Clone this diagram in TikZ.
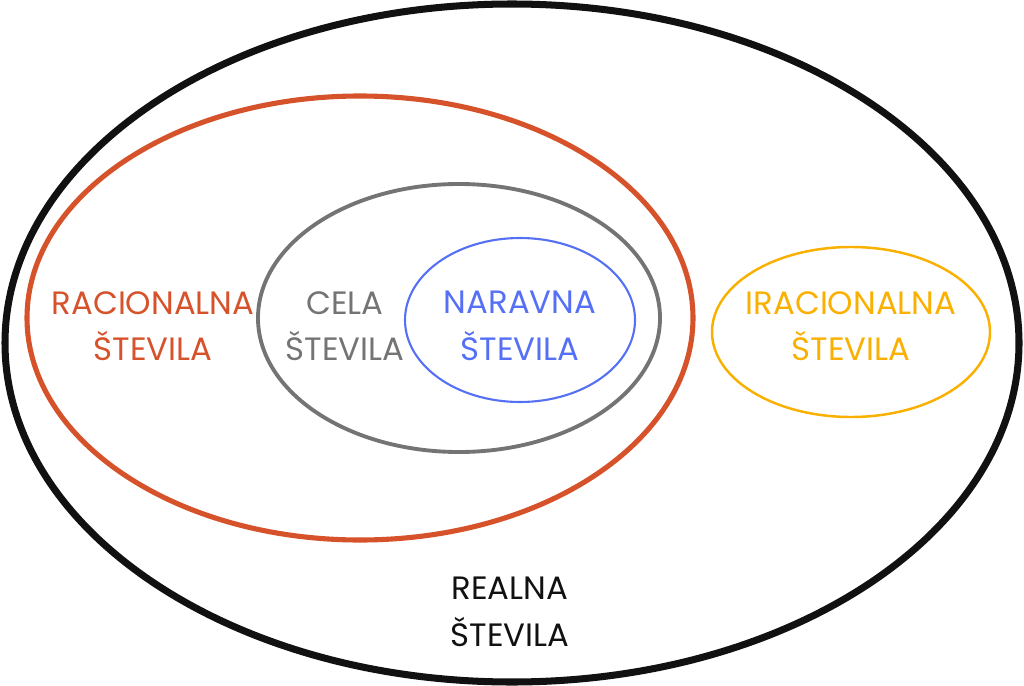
\documentclass[tikz,border=0pt]{standalone}
\usepackage{fontspec}
\setmainfont{Poppins}
\usepackage{tikz}

\definecolor{realcol}{HTML}{111111}
\definecolor{raccol}{HTML}{D6522A}
\definecolor{celacol}{HTML}{747474}
\definecolor{natcol}{HTML}{5670F5}
\definecolor{iraccol}{HTML}{FAB000}

\tikzset{
  label/.style={align=center, font=\fontsize{18.4}{26.5}\selectfont, inner sep=0pt}
}

\begin{document}
\begin{tikzpicture}[x=0.02cm, y=-0.02cm]
				\useasboundingbox (0,0) rectangle (1024,686);
				
				% Ellipses
				\draw[realcol, line width=4pt] (512,343) ellipse [x radius=507, y radius=339];
				\draw[raccol, line width=2.9pt] (360,318) ellipse [x radius=333, y radius=222];
				\draw[celacol, line width=2.2pt] (459,318) ellipse [x radius=201, y radius=134];
				\draw[natcol, line width=1.2pt] (520,320) ellipse [x radius=115, y radius=82];
				\draw[iraccol, line width=1.4pt] (851,332) ellipse [x radius=139, y radius=85];
				
				% Labels
				\node[label, text=raccol] (racionalna) at (153,326) {RACIONALNA\\ŠTEVILA};
				\node[label, text=celacol] (cela) at (345,326) {CELA\\ŠTEVILA};
				\node[label, text=natcol] (naravna) at (520,326) {NARAVNA\\ŠTEVILA};
				\node[label, text=iraccol] (iracionalna) at (851,326) {IRACIONALNA\\ŠTEVILA};
				\node[label, text=realcol] (realna) at (510,612) {REALNA\\ŠTEVILA};
			\end{tikzpicture}
\end{document}
